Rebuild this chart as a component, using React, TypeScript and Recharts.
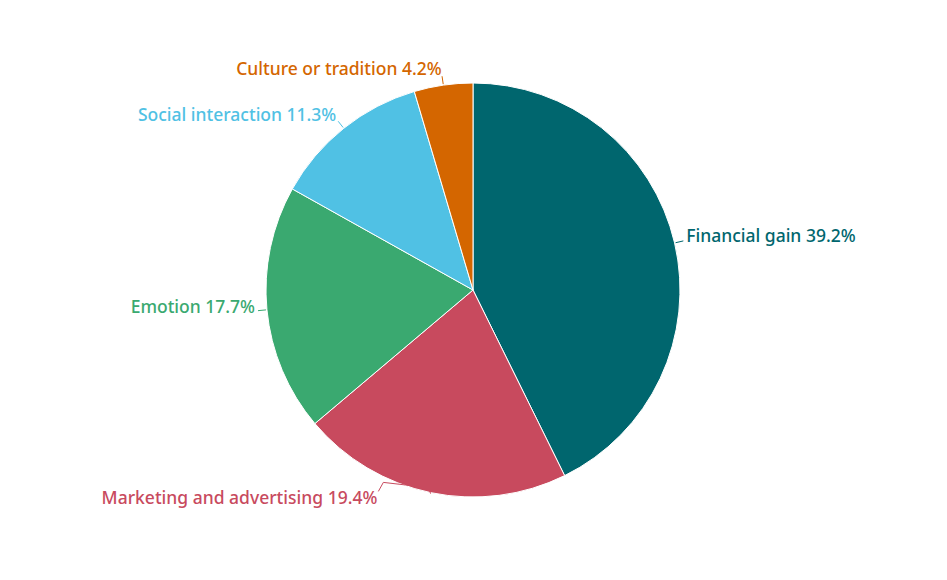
import { PieChart, Pie, Cell } from "recharts";

const categories = [
  "Financial gain",
  "Marketing and advertising",
  "Emotion",
  "Social interaction",
  "Culture or tradition",
];
const shares = [39.2, 19.4, 17.7, 11.3, 4.2];
const colors = ["#00666e", "#c84a5e", "#3aa970", "#50c1e4", "#d46600"];

const data = categories.map((name, i) => ({ name, value: shares[i] }));

const RAD = Math.PI / 180;

// the marketing label sits off to the left in the original
const nudges: Record<string, [number, number]> = {
  "Marketing and advertising": [-51, -2],
};

function renderLabel(props: any) {
  const { cx, cy, midAngle, outerRadius, name, value, index } = props;
  const cos = Math.cos(-midAngle * RAD);
  const sin = Math.sin(-midAngle * RAD);
  const color = colors[index % colors.length];
  const [nx, ny] = nudges[name] || [0, 0];
  const x0 = cx + (outerRadius + 1) * cos;
  const y0 = cy + (outerRadius + 1) * sin;
  const x = cx + (outerRadius + 12) * cos + nx;
  const y = cy + (outerRadius + 12) * sin - 5 + ny;
  const anchor = x >= cx ? "start" : "end";
  let path = `M${x0},${y0}L${cx + (outerRadius + 9) * cos},${cy + (outerRadius + 9) * sin}`;
  if (nx !== 0) {
    path = `M${x0},${y0}L${x0 - 2},${y0 - 6}L${x + 6},${y - 15}L${x + 1},${y - 6}`;
  }
  return (
    <g key={`label-${index}`}>
      <path d={path} stroke={color} strokeWidth={1} fill="none" />
      <text
        x={x}
        y={y}
        fill={color}
        textAnchor={anchor}
        dominantBaseline="central"
        fontFamily="'Noto Sans', sans-serif"
        fontSize={17.5}
        fontWeight={500}
      >
        {`${name} ${value}%`}
      </text>
    </g>
  );
}

export default function App() {
  return (
    <div style={{ width: 947, height: 580, position: "absolute", left: 0, top: 0 }}>
      <PieChart
        width={947}
        height={580}
        margin={{ top: 0, right: 0, bottom: 0, left: 0 }}
      >
        <Pie
          data={data}
          dataKey="value"
          nameKey="name"
          cx={473}
          cy={290}
          outerRadius={207}
          startAngle={90}
          endAngle={-270}
          stroke="#ffffff"
          strokeWidth={1}
          label={renderLabel}
          labelLine={false}
          isAnimationActive={false}
        >
          {data.map((entry, index) => (
            <Cell key={`cell-${index}`} fill={colors[index % colors.length]} />
          ))}
        </Pie>
      </PieChart>
    </div>
  );
}
